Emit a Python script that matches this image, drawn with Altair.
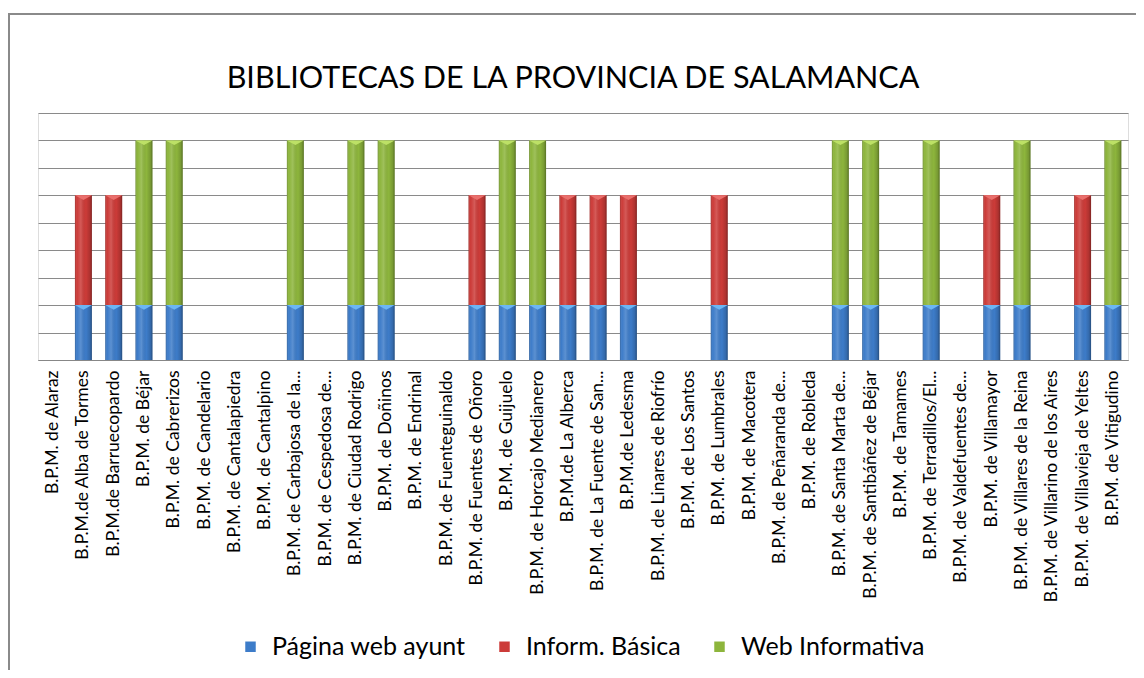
import altair as alt
import pandas as pd

categories = [
    "B.P.M. de Alaraz", "B.P.M.de Alba de Tormes", "B.P.M.de Barruecopardo",
    "B.P.M. de Béjar", "B.P.M. de Cabrerizos", "B.P.M. de Candelario",
    "B.P.M. de Cantalapiedra", "B.P.M. de Cantalpino", "B.P.M. de Carbajosa de la...",
    "B.P.M. de Cespedosa de...", "B.P.M. de Ciudad Rodrigo", "B.P.M. de Doñinos",
    "B.P.M. de Endrinal", "B.P.M. de Fuenteguinaldo", "B.P.M. de Fuentes de Oñoro",
    "B.P.M. de Guijuelo", "B.P.M. de Horcajo Medianero", "B.P.M.de La Alberca",
    "B.P.M. de La Fuente de San...", "B.P.M.de Ledesma", "B.P.M. de Linares de Riofrío",
    "B.P.M. de Los Santos", "B.P.M. de Lumbrales", "B.P.M. de Macotera",
    "B.P.M. de Peñaranda de...", "B.P.M. de Robleda", "B.P.M. de Santa Marta de...",
    "B.P.M. de Santibáñez de Béjar", "B.P.M. de Tamames", "B.P.M. de Terradillos/El...",
    "B.P.M. de Valdefuentes de...", "B.P.M. de Villamayor", "B.P.M. de Villares de la Reina",
    "B.P.M. de Villarino de los Aires", "B.P.M. de Villavieja de Yeltes", "B.P.M. de Vitigudino",
]

series = ["Página web ayunt", "Inform. Básica", "Web  Informativa"]

pagina_web_ayunt = [0, 1, 1, 1, 1, 0, 0, 0, 1, 0, 1, 1, 0, 0, 1, 1, 1, 1,
                    1, 1, 0, 0, 1, 0, 0, 0, 1, 1, 0, 1, 0, 1, 1, 0, 1, 1]
inform_basica = [0, 2, 2, 0, 0, 0, 0, 0, 0, 0, 0, 0, 0, 0, 2, 0, 0, 2,
                 2, 2, 0, 0, 2, 0, 0, 0, 0, 0, 0, 0, 0, 2, 0, 0, 2, 0]
web_informativa = [0, 0, 0, 3, 3, 0, 0, 0, 3, 0, 3, 3, 0, 0, 0, 3, 3, 0,
                   0, 0, 0, 0, 0, 0, 0, 0, 3, 3, 0, 3, 0, 0, 3, 0, 0, 3]

y_ticks = [0, 0.5, 1, 1.5, 2, 2.5, 3, 3.5, 4, 4.5]

series_colors = ["#3d7cc9", "#cc3b38", "#8db53c"]
highlight_colors = ["#6cb6f4", "#ea6f6c", "#bde166"]

rows = []
for i, cat in enumerate(categories):
    for k, vals in enumerate([pagina_web_ayunt, inform_basica, web_informativa]):
        rows.append({"cat": cat, "serie": series[k], "orden": k, "valor": vals[i]})
df = pd.DataFrame(rows)

W, H = 1090, 247
FONT = "Lato"

x_enc = alt.X(
    "cat:N",
    sort=categories,
    scale=alt.Scale(domain=categories, paddingInner=0.44, paddingOuter=0.22),
    axis=alt.Axis(
        title=None, labelAngle=-90, labelFont=FONT, labelFontSize=17.5,
        labelColor="#000000", labelPadding=10, ticks=False, tickSize=0,
        domainColor="#878787", domainWidth=1, labelLimit=400, grid=False,
    ),
)
y_enc = alt.Y(
    "y1:Q",
    scale=alt.Scale(domain=[0, 4.5], nice=False),
    axis=alt.Axis(
        title=None, values=y_ticks, labels=False, ticks=False, domain=False,
        gridColor="#8a8a8a", gridWidth=1, gridOpacity=1,
    ),
)
y2_enc = alt.Y2("y0:Q")

base = (
    alt.Chart(df)
    .transform_filter("datum.valor > 0")
    .transform_stack(
        stack="valor", groupby=["cat"], as_=["y0", "y1"],
        sort=[alt.SortField("orden", order="ascending")],
    )
)

bars = base.mark_bar().encode(
    x=x_enc, y=y_enc, y2=y2_enc,
    color=alt.Color(
        "serie:N",
        scale=alt.Scale(domain=series, range=series_colors),
        legend=alt.Legend(
            title=None, orient="none", direction="horizontal",
            legendX=200, legendY=521, symbolType="square", symbolSize=110,
            symbolStrokeWidth=0, labelFont=FONT, labelFontSize=25,
            labelColor="#000000", labelOffset=9, columnPadding=26,
            labelLimit=400,
        ),
    ),
)

shade = base.mark_bar(
    color=alt.Gradient(
        gradient="linear", x1=0, x2=1, y1=0, y2=0,
        stops=[
            alt.GradientStop(color="rgba(0,0,0,0.25)", offset=0),
            alt.GradientStop(color="rgba(255,255,255,0.0)", offset=0.12),
            alt.GradientStop(color="rgba(255,255,255,0.16)", offset=0.35),
            alt.GradientStop(color="rgba(0,0,0,0.0)", offset=0.65),
            alt.GradientStop(color="rgba(0,0,0,0.15)", offset=0.88),
            alt.GradientStop(color="rgba(0,0,0,0.38)", offset=1),
        ],
    )
).encode(x=x_enc, y=y_enc, y2=y2_enc)

tri = base.mark_point(
    shape="M-1,0L1,0L0,0.55Z", size=289, filled=True, opacity=1, strokeWidth=0
).encode(
    x=x_enc,
    y=y_enc,
    fill=alt.Fill("serie:N", scale=alt.Scale(domain=series, range=highlight_colors), legend=None),
)

frame_data = alt.Data(values=[{}])
top_border = alt.Chart(frame_data).mark_rule(color="#8a8a8a", strokeWidth=2).encode(
    x=alt.value(-30), x2=alt.value(1100), y=alt.value(-99)
)
left_border = alt.Chart(frame_data).mark_rule(color="#8a8a8a", strokeWidth=2).encode(
    x=alt.value(-29), y=alt.value(-100), y2=alt.value(560)
)

chart = (
    alt.layer(top_border, left_border, bars, shade, tri)
    .properties(
        width=W, height=H,
        autosize=alt.AutoSizeParams(type="none"),
        padding={"left": 30, "top": 105, "right": 8, "bottom": 310},
        title=alt.TitleParams(
            "BIBLIOTECAS DE LA PROVINCIA DE  SALAMANCA",
            font=FONT, fontSize=30.5, fontWeight="normal", color="#000000",
            anchor="middle", offset=-106, baseline="alphabetic", dx=-10,
        ),
    )
    .configure_view(stroke="transparent")
    .configure(background="#ffffff")
)

chart.save("out.html", embed_options={"renderer": "svg", "actions": False})
